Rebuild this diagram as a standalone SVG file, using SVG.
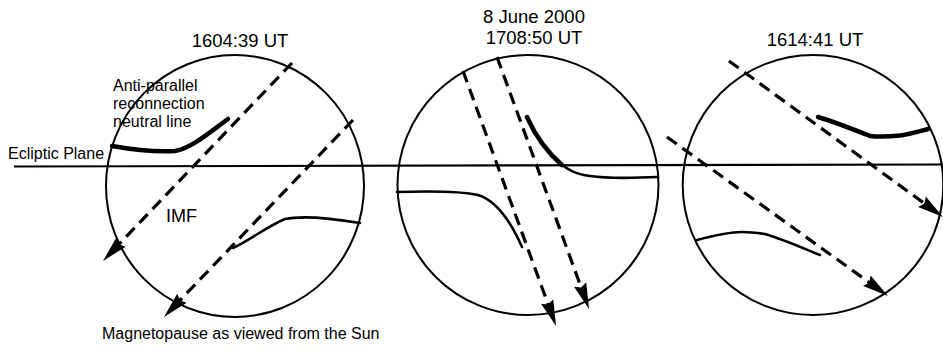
<svg xmlns="http://www.w3.org/2000/svg" width="943" height="351" viewBox="0 0 943 351">
  <style>
    .bg { fill: #ffffff; }
    .disk { fill: none; stroke: #000; stroke-width: 2; }
    .ecl { fill: none; stroke: #000; stroke-width: 2.2; }
    .nl { fill: none; stroke: #000; stroke-width: 4.5; stroke-linecap: round; stroke-linejoin: round; }
    .fl { fill: none; stroke: #000; stroke-width: 2.6; stroke-linecap: round; stroke-linejoin: round; }
    .imf { fill: none; stroke: #000; stroke-width: 3.2; stroke-dasharray: 12 7; marker-end: url(#ah); }
    .t { font-family: "Liberation Sans", Arial, sans-serif; fill: #000; }
    .title { font-size: 18.5px; text-anchor: middle; }
    .lab { font-size: 16px; }
  </style>
  <defs>
    <marker id="ah" markerUnits="userSpaceOnUse" markerWidth="28" markerHeight="16" refX="18" refY="8" orient="auto" viewBox="0 0 28 16">
      <path d="M0,1.5 L26,8 L0,14.5 L3,8 z" fill="#000"/>
    </marker>
  </defs>
  <rect class="bg" x="0" y="0" width="943" height="351"/>

  <g id="ecliptic">
    <line class="ecl" x1="14" y1="166.5" x2="943" y2="164.5"/>
    <text class="t lab" x="8" y="159">Ecliptic Plane</text>
  </g>

  <g id="panel1">
    <ellipse class="disk" cx="235" cy="186" rx="129" ry="131"/>
    <path class="nl" d="M112,146 C135,150 160,152 175,151 C192,148 210,132 228,119"/>
    <path class="fl" d="M233,248 C250,240 268,226 285,219 C300,216 330,218 360,223"/>
    <text class="t title" x="240" y="47">1604:39 UT</text>
    <text class="t lab" x="113" y="91">Anti-parallel</text>
    <text class="t lab" x="113" y="109">reconnection</text>
    <text class="t lab" x="113" y="127">neutral line</text>
    <text class="t" x="166" y="222" font-size="18">IMF</text>
  </g>

  <g id="panel2">
    <ellipse class="disk" cx="528" cy="185" rx="130.5" ry="130"/>
    <path class="nl" d="M527,117 C535,135 548,153 562,165"/>
    <path class="fl" d="M560,163 C568,170 575,174 590,176 C610,179 635,178 658,177"/>
    <path class="fl" d="M397,192 C430,191 460,191 478,195 C495,200 510,220 522,247"/>
    <text class="t title" x="534" y="23">8 June 2000</text>
    <text class="t title" x="534" y="44">1708:50 UT</text>
  </g>

  <g id="panel3">
    <ellipse class="disk" cx="813" cy="185" rx="130.3" ry="130"/>
    <path class="nl" d="M818,117 C835,122 855,130 870,136 C880,137 895,136 900,135.5 C910,134 920,131 928,129"/>
    <path class="fl" d="M697,240 C712,236 728,232 742,232 C750,232 758,233 765,234 C785,240 805,249 820,255"/>
    <text class="t title" x="815" y="46">1614:41 UT</text>
  </g>

  <g id="caption">
    <text class="t lab" x="102" y="339">Magnetopause as viewed from the Sun</text>
  </g>

  <g id="connectors">
    <line class="imf" x1="292" y1="63" x2="108.5" y2="255.2"/>
    <line class="imf" x1="353" y1="120" x2="169.5" y2="311.2"/>
    <line class="imf" x1="463" y1="71" x2="553.3" y2="318.5"/>
    <line class="imf" x1="497" y1="57" x2="586.3" y2="301.5"/>
    <line class="imf" x1="729" y1="61" x2="936.5" y2="212.3"/>
    <line class="imf" x1="667" y1="137" x2="881.5" y2="291.3"/>
  </g>
</svg>
